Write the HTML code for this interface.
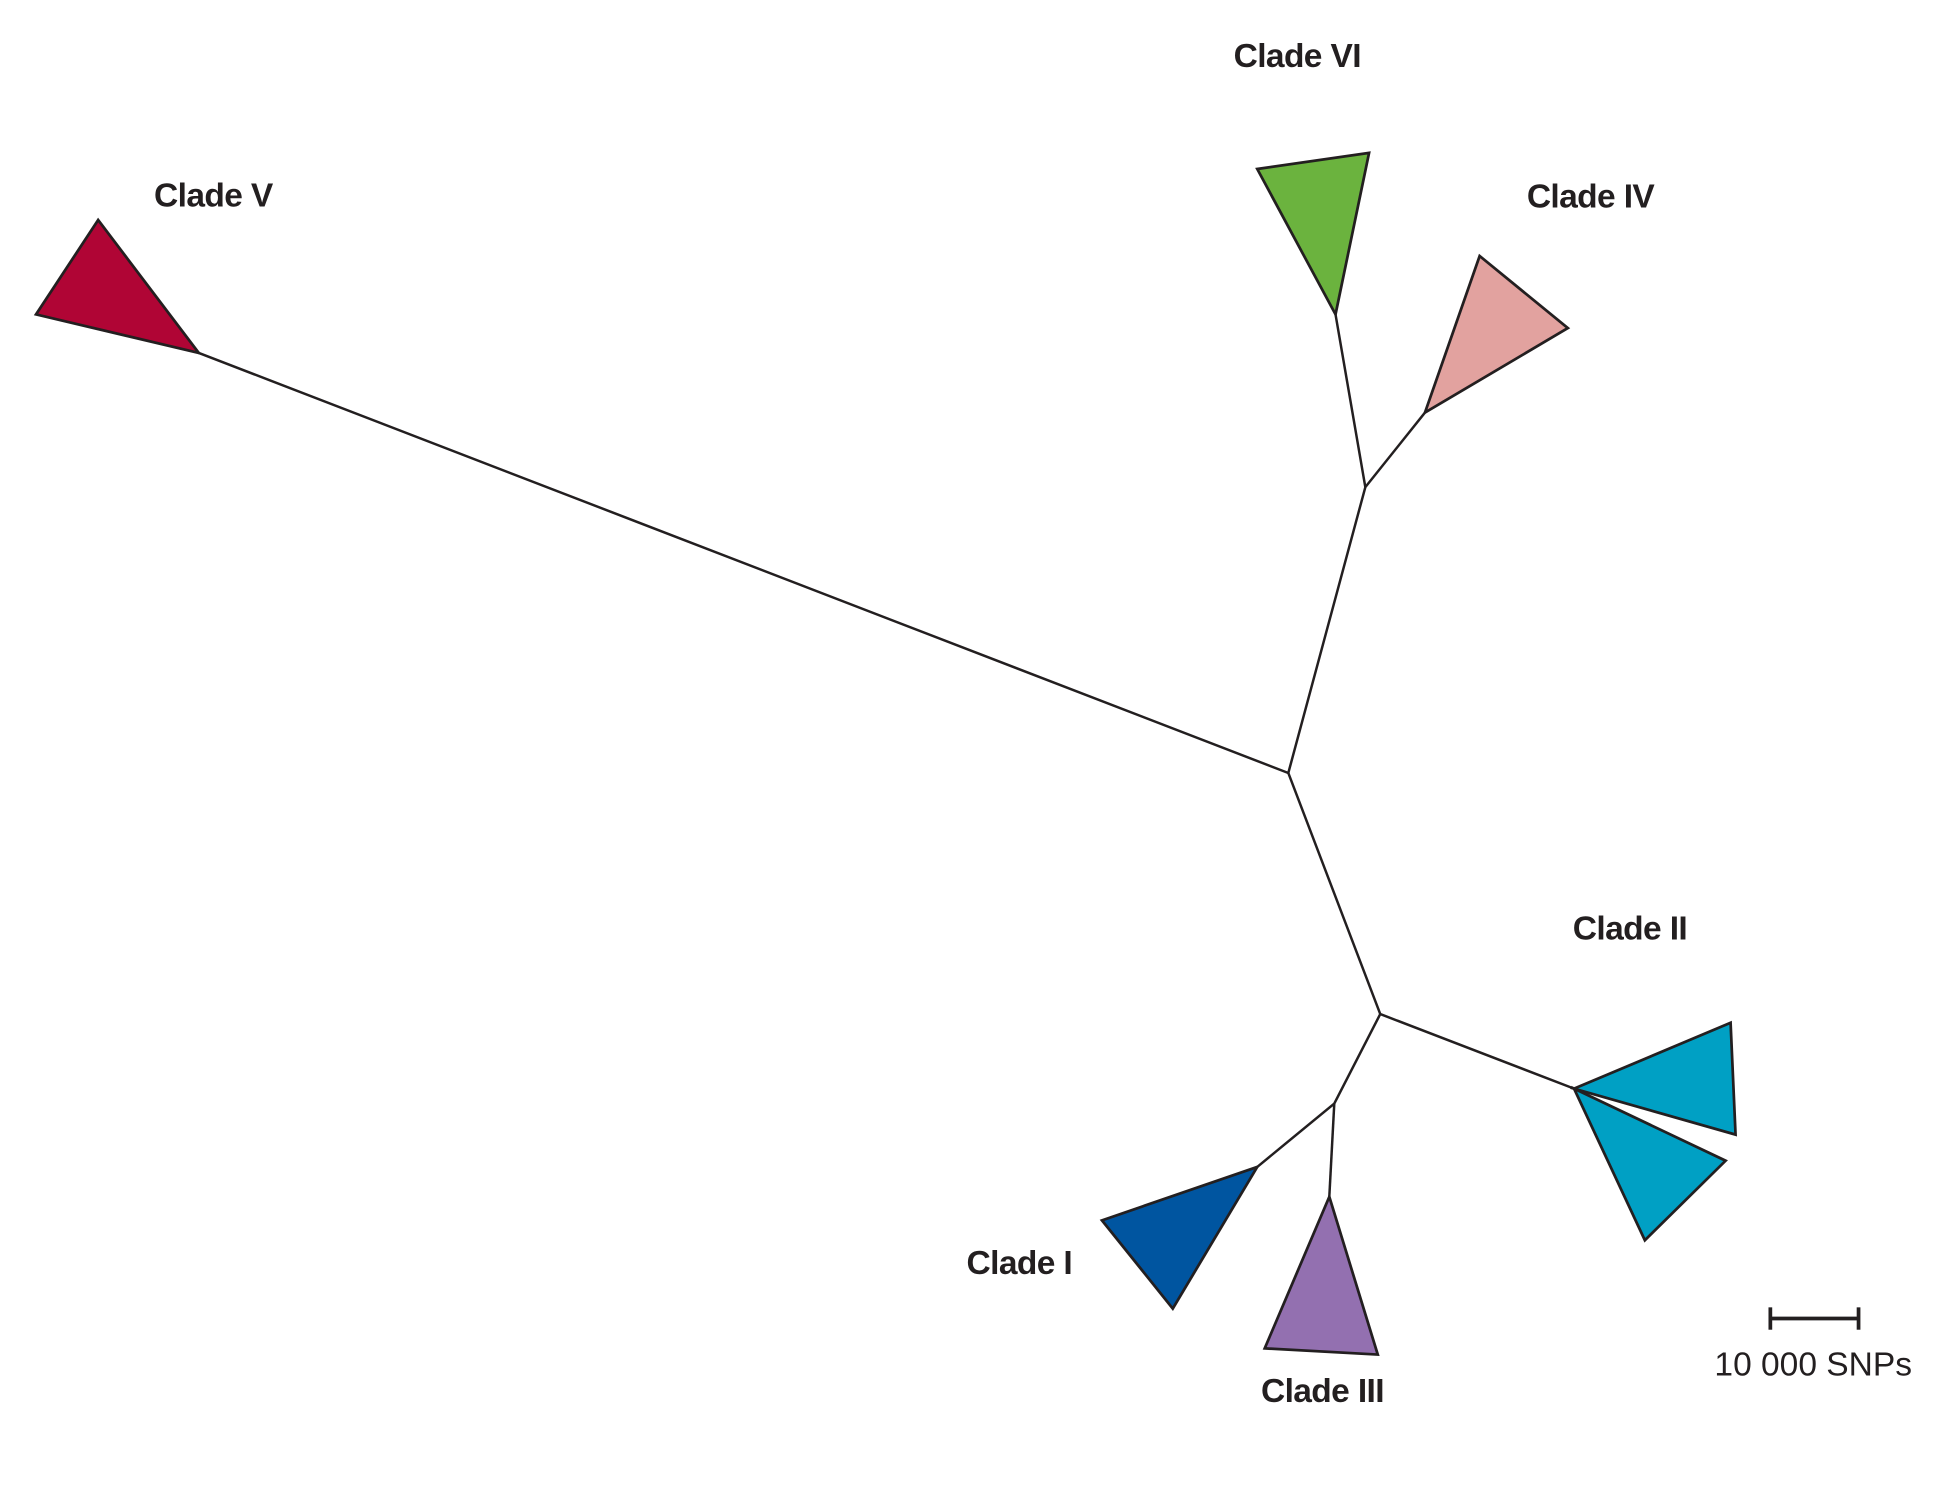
<!DOCTYPE html>
<html><head><style>html,body{margin:0;padding:0;background:#fff}svg{display:block}</style></head>
<body>
<svg width="1948" height="1495" viewBox="0 0 1568 1203" preserveAspectRatio="none" xmlns="http://www.w3.org/2000/svg">
<g stroke="#231f20" stroke-width="2" fill="none" stroke-linejoin="miter">
<polyline points="160,284 1037,622 1099,392 1075,253"/>
<line x1="1099" y1="392" x2="1147" y2="332"/>
<polyline points="1037,622 1111,816 1267,876"/>
<polyline points="1111,816 1074,888 1012,939"/>
<line x1="1074" y1="888" x2="1070" y2="963"/>
</g>
<g stroke="#231f20" stroke-width="2.2" stroke-linejoin="miter">
<polygon points="160,284 29,253 79,177" fill="#b00535"/>
<polygon points="1075,253 1012,136 1102,123" fill="#6bb33e"/>
<polygon points="1147,332 1191,206 1262,264" fill="#e2a29f"/>
<polygon points="1267,876 1393,823 1397,913" fill="#00a0c4"/>
<polygon points="1267,876 1389,934 1324,998" fill="#00a0c4"/>
<polygon points="1012,939 887,982 944,1053" fill="#0055a0"/>
<polygon points="1070,963 1018,1085 1109,1090" fill="#9370b0"/>
</g>
<g font-family="Liberation Sans, sans-serif" font-weight="bold" font-size="27" fill="#231f20" letter-spacing="-0.5">
<text x="124" y="166">Clade V</text>
<text x="993" y="54">Clade VI</text>
<text x="1229" y="167">Clade IV</text>
<text x="1266" y="756">Clade II</text>
<text x="778" y="1025">Clade I</text>
<text x="1015" y="1128">Clade III</text>
</g>
<g stroke="#231f20" stroke-width="3">
<line x1="1425" y1="1061" x2="1496" y2="1061"/>
<line x1="1425" y1="1052" x2="1425" y2="1070"/>
<line x1="1496" y1="1052" x2="1496" y2="1070"/>
</g>
<text x="1380" y="1107" font-family="Liberation Sans, sans-serif" font-size="27" fill="#231f20">10 000 SNPs</text>
</svg>
</body></html>
